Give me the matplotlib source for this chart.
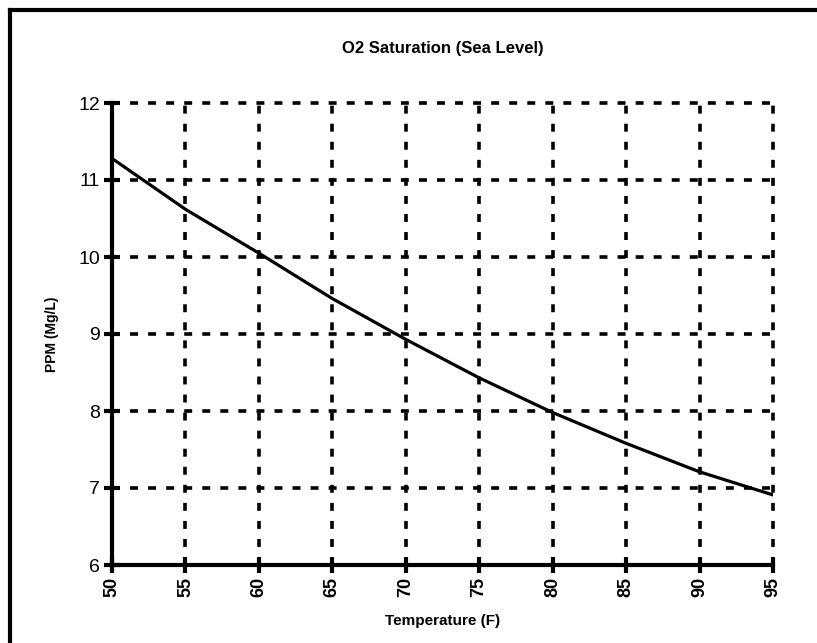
import matplotlib
matplotlib.use('Agg')
import matplotlib.pyplot as plt
from matplotlib.lines import Line2D

temps = [50, 55, 60, 65, 70, 75, 80, 85, 90, 95]
ppm = [11.28, 10.62, 10.05, 9.46, 8.93, 8.43, 7.98, 7.58, 7.21, 6.91]

x_ticks = [50, 55, 60, 65, 70, 75, 80, 85, 90, 95]
y_ticks = [6, 7, 8, 9, 10, 11, 12]

plt.rcParams['font.family'] = ['Liberation Sans Narrow', 'Liberation Sans', 'DejaVu Sans']

fig = plt.figure(figsize=(8.17, 6.43), dpi=100)
ax = fig.add_axes([112 / 817, 1 - 565 / 643, (773 - 112) / 817, (565 - 103) / 643])

ax.plot(temps, ppm, color='black', linewidth=2.3, zorder=3)

ax.set_xlim(50, 95)
ax.set_ylim(6, 12)
ax.set_xticks(x_ticks)
ax.set_yticks(y_ticks)
ax.set_xticklabels([str(t) for t in x_ticks], rotation=90, fontsize=13, fontweight='bold')
ax.set_yticklabels([str(t) for t in y_ticks], fontsize=14)

ax.grid(True, color='black', linewidth=2.6, linestyle=(0, (2.2, 2.8)))
for gl in ax.get_xgridlines() + ax.get_ygridlines():
    gl.set_clip_on(False)
ax.set_axisbelow(True)

for side in ['top', 'right']:
    ax.spines[side].set_visible(False)
for side in ['left', 'bottom']:
    ax.spines[side].set_linewidth(3)
ax.tick_params(direction='inout', length=11, width=3, pad=3)

ax.set_xlabel('Temperature (F)', fontsize=11, fontweight='bold', labelpad=12)
ax.set_ylabel('PPM (Mg/L)', fontsize=10, fontweight='bold', labelpad=14)
ax.set_title('O2 Saturation (Sea Level)', fontsize=12, fontweight='bold', pad=36)

# outer frame (only left and top edge visible)
fig.add_artist(Line2D([10 / 817, 10 / 817], [0, 1 - 10 / 643], color='black',
                      linewidth=3, transform=fig.transFigure))
fig.add_artist(Line2D([10 / 817, 1], [1 - 10 / 643, 1 - 10 / 643], color='black',
                      linewidth=3, transform=fig.transFigure))

plt.savefig('out.png', dpi=100)
plt.close()
